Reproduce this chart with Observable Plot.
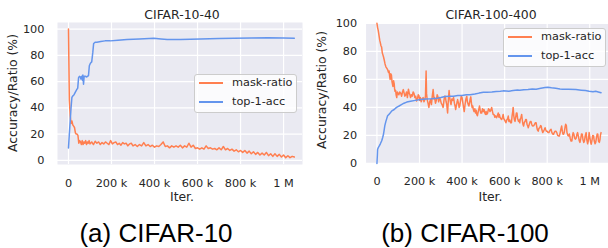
<!DOCTYPE html>
<html><head><meta charset="utf-8">
<script src="https://cdn.jsdelivr.net/npm/d3@7"></script>
<script src="https://cdn.jsdelivr.net/npm/@observablehq/plot@0.6"></script>
<style>
html,body{margin:0;padding:0;background:#fff;width:608px;height:248px;overflow:hidden;}
body{position:relative;font-family:"DejaVu Sans";color:#262626;}
.abs{position:absolute;white-space:nowrap;line-height:1;}
.c{transform:translate(-50%,-50%);}
.panel{position:absolute;top:0;}
.title{font-size:12.4px;}
.alab{font-size:12.4px;}
.ylab{transform:translate(-50%,-50%) rotate(-90deg);}
.cap{font-family:"Liberation Sans";font-size:26px;color:#000;}
.legend{position:absolute;border:1px solid #cccccc;border-radius:3px;background:rgba(255,255,255,0.8);box-sizing:border-box;}
.lsw{position:absolute;height:1.6px;}
.ltx{position:absolute;font-size:11.3px;line-height:1;transform:translateY(-50%);white-space:nowrap;}
</style></head>
<body>
<script>
// ---- data (iterations in thousands) ----
const xTicks = [0, 200, 400, 600, 800, 1000];
const xTickLabels = ["0", "200 k", "400 k", "600 k", "800 k", "1 M"];
const yTicks = [0, 20, 40, 60, 80, 100];
const seriesNames = ["mask-ratio", "top-1-acc"];
const seriesColors = ["#FF7F50", "#6495ED"];
const panelTitles = ["CIFAR-10-40", "CIFAR-100-400"];
const captions = ["(a) CIFAR-10", "(b) CIFAR-100"];

const c10Mask = [[0,100],[4,46],[8,34],[12,28],[16,30],[20,27],[24,26],[28,25],[32,21],[36,20],[40,20],[44,19],[48,13],[52,15],[56,14],[60,12],[64,15],[68,12],[72,14],[76,13],[80,15],[84,12],[88,14],[92,13],[96,15],[100,12.5],[108,14],[116,12],[124,14.5],[132,13],[140,14],[148,12],[156,13.5],[164,12.5],[172,14],[180,13],[188,12],[196,15],[204,12.5],[212,13.5],[220,14],[228,12],[236,13],[244,11.5],[252,13.5],[260,12.5],[268,13],[276,11],[284,12.5],[292,13],[300,11],[310,12],[320,10.5],[330,12],[340,11],[350,13.5],[360,11],[370,12],[380,10.5],[390,11.5],[400,10],[410,11],[420,10.5],[430,12],[440,14],[450,10.5],[460,11],[470,9.5],[480,11],[490,10],[500,11],[510,10],[520,11.5],[530,9.5],[540,11],[550,10],[560,13],[570,10],[580,11.5],[590,9],[600,9.5],[610,8.5],[620,9.5],[630,8.5],[640,11],[650,9],[660,9.5],[670,8.5],[680,9],[690,8],[700,9.5],[710,8],[720,10.5],[730,8],[740,9],[750,7.5],[760,8.5],[770,7],[780,8],[790,6.5],[800,7.5],[810,6],[820,7.5],[830,5.5],[840,7],[850,5],[860,6.5],[870,4.5],[880,6],[890,4],[900,5.5],[910,4],[920,6],[930,3.5],[940,5],[950,3],[960,5],[970,3],[980,4.5],[990,2.5],[1000,4],[1010,2],[1020,3.5],[1030,2],[1040,3],[1050,2.5]];

const c10Acc = [[0,9.4],[4,20],[8,30],[12,40],[16,48],[20,49],[26,50],[32,52],[39,54],[43,55],[47,63],[51,64],[55,63.5],[58,62],[62,64],[65,61],[67,65],[70,58],[73,64],[78,64],[85,63.5],[93,64.5],[97,72],[102,74],[108,75],[113,82],[117,89],[125,90],[132,90],[150,90.5],[170,91],[194,91],[230,91.5],[272,92],[330,92.5],[397,93],[430,92.5],[459,92],[520,92],[614,92.5],[700,92.8],[770,93],[850,93.2],[925,93.4],[1000,93.2],[1050,93]];

const c100Mask = [[0,100],[3,97],[6,95],[10,91],[13,88],[16,86],[19,84],[22,83],[25,79],[28,77.5],[31,76],[34,74],[38,71],[42,69],[46,68],[50,67],[54,65],[57,66],[60,62],[62,60],[65,64],[68,63],[71,58],[75,55],[78,59],[81,57],[83,53],[85,51.5],[88,52],[90,49],[93,47],[96,51],[99,50],[103,49],[107,51],[112,50],[116,48],[120,51],[124,52.7],[128,50],[131,48],[135,49],[139,51],[143,47],[148,53],[152,50],[155,49],[158,47],[162,49],[166,48],[170,51],[174,50],[178,47],[182,48],[186,44.5],[190,46],[194,49],[197,48.5],[201,45],[204,47],[208,44],[212,46],[217,47],[221,44],[225,45.6],[228,48],[231,66],[233,50],[236,45.6],[240,43],[244,40],[248,44],[252,45.6],[256,42],[260,48],[264,52.7],[268,46],[271,47],[275,43],[279,45],[283,49],[286,48],[290,44],[294,47],[298,45.6],[302,43],[306,42],[311,40],[315,45],[318,48],[321,48],[325,44],[328,42],[332,36],[335,44],[339,52],[342,47],[345,44],[348,42],[352,46],[356,45],[360,47],[364,43],[367,41],[370,38.5],[374,42],[377,44],[379,45.6],[383,43],[386,40],[389,41],[393,45],[396,48],[400,47],[403,44],[407,40],[410,37],[414,42],[418,46],[422,48],[425,44],[429,42],[432,41],[436,44],[438,46],[441,47.5],[444,43],[447,40],[450,41],[453,38.5],[456,37],[460,39],[463,36],[466,38],[469,35],[472,34],[476,37],[479,39],[482,41],[485,38],[488,36],[492,36],[496,39],[500,37],[503,38.5],[507,36],[510,35],[513,37],[516,35],[520,36],[524,39],[528,38.5],[531,37],[535,38],[539,40],[543,37],[546,35],[550,35],[554,33],[558,34],[562,32.6],[566,34],[570,36],[573,33],[575,35],[578,33],[582,32],[586,31.4],[590,33],[593,35],[596,32],[600,31],[603,30],[606,29],[610,31],[614,32],[617,33.8],[620,30],[624,31],[628,29],[632,29],[635,34],[638,37],[640,40],[643,34],[646,31],[649,30],[652,33],[655,36],[658,36],[661,32],[665,30],[668,31],[671,29],[674,32],[677,33],[680,35],[683,31],[686,28],[689,26.7],[692,29],[696,30],[699,31.4],[702,31.4],[705,28],[708,27],[711,25.5],[714,27],[718,29],[721,30],[724,30],[727,28],[730,27],[733,26.7],[737,27],[741,28],[744,29],[748,29],[751,26],[754,24],[758,23],[761,25],[765,25.5],[769,27],[772,26.7],[775,24],[779,22],[783,23],[786,24],[790,25.5],[793,24],[796,23],[800,23],[804,22],[808,22],[811,23],[815,24],[818,24.4],[822,22],[826,21],[830,20.8],[833,22],[837,23],[841,23],[845,22],[849,20],[853,19.6],[857,19.6],[861,22],[865,25],[868,26.7],[871,23],[874,21],[877,20.8],[880,22],[884,26],[887,28],[890,27],[893,22],[897,20],[900,19.6],[904,21],[908,18],[912,16],[916,16],[919,20],[922,22],[925,21],[929,18],[932,17.3],[936,18],[940,21],[943,22],[947,19],[951,16],[954,15],[958,18],[961,21],[965,20.8],[968,17],[972,15],[975,16],[979,20],[983,22],[986,17],[990,14],[993,16],[997,22],[1000,19],[1004,15],[1007,13.7],[1011,17],[1014,20],[1018,19.6],[1021,16],[1025,14],[1028,15],[1032,19],[1035,21],[1038,20.8],[1041,16],[1045,15],[1048,17],[1050,20],[1053,22]];

const c100Acc = [[0,0],[2,6],[3,10],[7,11.5],[11,12.5],[16,14],[22,16],[27,18.5],[31,21],[34,24],[37,27],[42,30],[46,32],[50,34],[56,35],[62,36],[70,37.5],[81,38.5],[92,40],[104,41],[115,42],[127,43],[140,43.8],[158,44.4],[180,45],[205,45.6],[230,46],[255,46.2],[283,46.6],[300,47],[320,47.8],[340,48],[360,48],[380,48.5],[400,48.5],[420,49],[438,49],[460,49.5],[480,50.2],[500,50.8],[516,50.8],[540,51],[560,51.3],[580,51.5],[593,51.8],[620,51.6],[640,52],[660,52.4],[671,52.2],[690,52.6],[710,52.8],[730,53.2],[748,53],[770,53.6],[790,54.2],[803,54.4],[820,54],[840,53.6],[860,53.2],[873,53],[900,53],[935,52.7],[960,52.3],[980,52],[997,51.5],[1015,51.2],[1028,51.5],[1040,51],[1053,50.5]];

// ---- drawing ----
function panel(mask, acc, cfg) {
  const fmt = d => xTickLabels[xTicks.indexOf(d)];
  return Plot.plot({
    width: cfg.width, height: 205,
    marginLeft: cfg.ml, marginRight: cfg.mr, marginTop: cfg.mt, marginBottom: 205 - 164,
    x: {domain: [-51, 1088]},
    y: {domain: cfg.ydom},
    style: {fontFamily: "DejaVu Sans", fontSize: "11.3px", color: "#262626", background: "transparent", overflow: "visible"},
    marks: [
      Plot.frame({fill: "#EAEAF2", stroke: "none"}),
      Plot.gridX(xTicks, {stroke: "#ffffff", strokeOpacity: 1, strokeWidth: 1.2}),
      Plot.gridY(yTicks, {stroke: "#ffffff", strokeOpacity: 1, strokeWidth: 1.2}),
      Plot.line(mask, {x: d => d[0], y: d => d[1], stroke: seriesColors[0], strokeWidth: 1.5}),
      Plot.line(acc, {x: d => d[0], y: d => d[1], stroke: seriesColors[1], strokeWidth: 1.5}),
      Plot.axisX(xTicks, {anchor: "bottom", tickSize: 0, tickPadding: 14, tickFormat: fmt, label: null}),
      Plot.axisY(yTicks, {anchor: "left", tickSize: 0, tickPadding: cfg.yPad, label: null})
    ]
  });
}

function place(el, left) {
  const d = document.createElement("div");
  d.className = "panel"; d.style.left = left + "px";
  d.appendChild(el); document.body.appendChild(d);
}
function text(str, cls, x, y) {
  const d = document.createElement("div");
  d.className = "abs " + cls; d.textContent = str;
  d.style.left = x + "px"; d.style.top = y + "px";
  document.body.appendChild(d);
}
function legend(x, y, w, h) {
  const box = document.createElement("div");
  box.className = "legend";
  Object.assign(box.style, {left: x + "px", top: y + "px", width: w + "px", height: h + "px"});
  document.body.appendChild(box);
  seriesNames.forEach((n, i) => {
    const cy = y + 9 + i * 19;
    const s = document.createElement("div");
    s.className = "lsw";
    Object.assign(s.style, {left: (x + 5) + "px", top: (cy - 0.8) + "px", width: "24px", background: seriesColors[i]});
    document.body.appendChild(s);
    const t = document.createElement("div");
    t.className = "ltx"; t.textContent = n;
    Object.assign(t.style, {left: (x + 38) + "px", top: cy + "px"});
    document.body.appendChild(t);
  });
}

place(panel(c10Mask, c10Acc, {width: 304, ml: 57, mr: 2, mt: 22, ydom: [-3.2, 105], yPad: 13}), 0);
place(panel(c100Mask, c100Acc, {width: 306, ml: 62, mr: 0, mt: 23, ydom: [0, 100], yPad: 9}), 304);

text(panelTitles[0], "title c", 182, 14.5);
text(panelTitles[1], "title c", 491, 14.5);
text("Accuracy/Ratio (%)", "alab ylab", 12.7, 93);
text("Accuracy/Ratio (%)", "alab ylab", 322, 90);
text("Iter.", "alab c", 182, 197);
text("Iter.", "alab c", 490.5, 197);
text(captions[0], "cap c", 156, 232.5);
text(captions[1], "cap c", 465, 232.5);

legend(194, 74, 103, 39);
legend(503, 28, 103, 39);
</script>
</body></html>
